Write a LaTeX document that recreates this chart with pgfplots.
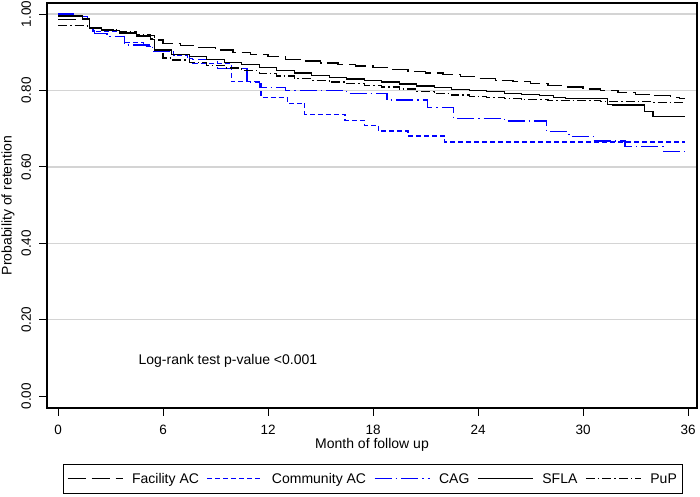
\documentclass[border=0pt]{standalone}
\usepackage{pgfplots}
\pgfplotsset{compat=1.18}
\usepackage{fontspec}
\setmainfont{Liberation Sans}
\definecolor{sblue}{RGB}{0,0,255}
\begin{document}
\begin{tikzpicture}
\useasboundingbox (-47bp,-89bp) rectangle (653bp,408bp);
\begin{axis}[name=ax,
  scale only axis, width=650bp, height=405bp,
  at={(0,0)}, anchor=south west,
  xmin=-0.63, xmax=36.51, ymin=-0.031, ymax=1.029,
  xtick={0,6,12,18,24,30,36}, xticklabels={0,6,12,18,24,30,36},
  ytick={0.2,0.4,0.6,0.8,1}, yticklabels={0.20,0.40,0.60,0.80,1.00},
  extra y ticks={0}, extra y tick labels={0.00}, extra y tick style={grid=none},
  tick align=outside, xtick pos=bottom, ytick pos=left,
  major tick length=7.5bp,
  tick style={black, line width=1bp},
  axis line style={black, line width=1.3bp},
  ymajorgrids, grid style={black!17, line width=1.3bp},
  font=\fontsize{14bp}{16bp}\selectfont,
  ticklabel style={font=\fontsize{13.5bp}{15bp}\selectfont},
  /pgf/number format/assume math mode=true,
  yticklabel style={rotate=90, anchor=south, inner sep=0pt},
  yticklabel shift=8bp,
  xticklabel style={anchor=north, inner sep=0pt, yshift=-9bp},
  xlabel={Month of follow up},
  ylabel={Probability of retention},
  xlabel style={at={(axis description cs:0.5,-0.0995)}, anchor=base},
  ylabel style={at={(axis description cs:-0.06,0.5)}, anchor=center, rotate=0},
  legend columns=5,
  legend style={at={(axis description cs:0.5015,-0.1753)}, anchor=center,
    draw=black, line width=1bp, inner xsep=4bp, inner ysep=7bp,
    font=\fontsize{14bp}{16bp}\selectfont,
    /tikz/every even column/.append style={column sep=6bp},
    cells={anchor=west}},
  legend image code/.code={\draw[#1] (0bp,0bp) -- (55bp,0bp); \path (62bp,0bp);},
  const plot, line width=1.2bp,
]
\addplot[black, dash pattern=on 18bp off 6bp] coordinates {
(0,0.985) (1.8,0.965) (2.5,0.96) (3.5,0.952) (4.5,0.943) (5.5,0.932) (6,0.924)
(7,0.918) (8,0.912) (9,0.906) (10,0.9) (11,0.894) (12,0.888) (13,0.882) (14,0.877)
(15,0.872) (16,0.868) (17,0.864) (18,0.86) (19,0.855) (20,0.85) (21,0.846) (22,0.841)
(23,0.836) (24,0.832) (25,0.827) (26,0.823) (27,0.818) (28,0.813) (29,0.809) (30,0.804)
(31,0.8) (32,0.795) (33,0.79) (34,0.786) (35,0.781) (35.5,0.778) (35.8,0.778)};
\addlegendentry{Facility AC}
\addplot[sblue, dash pattern=on 5bp off 3bp] coordinates {
(0,1.0) (0.9,0.993) (1.7,0.985) (1.8,0.963) (2.0,0.954) (3.8,0.925) (4.9,0.915)
(5.5,0.903) (6.6,0.893) (7.4,0.884) (7.7,0.871) (9.9,0.823) (11.6,0.782) (13.1,0.767)
(14.1,0.738) (16.4,0.722) (17.5,0.709) (18.3,0.694) (20,0.681) (22.1,0.665) (35.8,0.665)};
\addlegendentry{Community AC}
\addplot[sblue, dash pattern=on 17bp off 4bp on 1.5bp off 4bp] coordinates {
(0,1.0) (0.9,0.993) (1.7,0.985) (1.8,0.963) (2.1,0.95) (2.8,0.941) (3.8,0.919)
(5.4,0.903) (6.5,0.895) (7.5,0.882) (9.1,0.857) (10.8,0.822) (11.5,0.808) (13.0,0.801)
(16.5,0.792) (18.8,0.775) (21.1,0.756) (22.6,0.727) (25.5,0.72) (27.9,0.692) (29.2,0.68)
(30.6,0.668) (32.4,0.654) (34.6,0.641) (35.8,0.641)};
\addlegendentry{CAG}
\addplot[black, solid] coordinates {
(0,0.995) (1.4,0.987) (1.8,0.963) (2.5,0.957) (3.5,0.95) (4.5,0.942) (5.3,0.934)
(5.5,0.906) (6.5,0.895) (7.5,0.888) (8.5,0.881) (9.5,0.874) (10.5,0.867) (11.5,0.86)
(12.5,0.852) (13.5,0.846) (14.5,0.84) (15.5,0.835) (16.5,0.83) (17.5,0.826) (18.5,0.822)
(19.5,0.817) (20.5,0.812) (21.5,0.807) (22.5,0.803) (23.5,0.8) (24.5,0.797) (25.5,0.793)
(26.5,0.79) (27.5,0.786) (28.3,0.781) (29,0.778) (31.4,0.764) (31.7,0.762) (33.5,0.745)
(34,0.731) (35.8,0.731)};
\addlegendentry{SFLA}
\addplot[black, dash pattern=on 9bp off 3bp on 1.5bp off 3bp] coordinates {
(0,0.97) (1.7,0.965) (2.5,0.96) (3.5,0.953) (4.5,0.945) (5.3,0.937) (5.5,0.905)
(6,0.885) (6.5,0.88) (7.5,0.873) (8.5,0.866) (9.5,0.859) (10.5,0.852) (11.5,0.845)
(12.5,0.838) (13.5,0.831) (14.5,0.826) (15.5,0.822) (16.5,0.818) (17.5,0.814) (18.5,0.809)
(19.5,0.804) (20.5,0.797) (21.5,0.792) (22.5,0.788) (23.5,0.785) (24.5,0.782) (25.5,0.779)
(26.5,0.776) (28,0.774) (31,0.772) (34,0.769) (35.8,0.769)};
\addlegendentry{PuP}
\node[anchor=base west, font=\fontsize{14bp}{16bp}\selectfont, inner sep=0pt] at (axis cs:4.57,0.084) {Log-rank test p-value <0.001};
\end{axis}
\draw[black, line width=1.4bp] (ax.south west) rectangle (ax.north east);
\end{tikzpicture}
\end{document}
